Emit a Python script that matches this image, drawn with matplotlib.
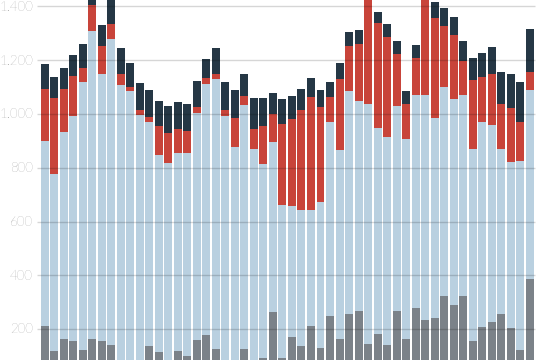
import numpy as np
import matplotlib.pyplot as plt

# stacked weekly values (bottom to top)
grey = [212, 120, 164, 157, 124, 164, 157, 142, 60, 50, 70, 138, 115, 70, 120, 100,
        158, 179, 127, 70, 70, 125, 70, 93, 262, 93, 169, 138, 212, 131, 250, 163,
        257, 269, 145, 182, 142, 266, 164, 278, 235, 243, 322, 291, 322, 157, 207, 225,
        257, 204, 123, 388]
light_blue = [687, 655, 769, 836, 995, 1144, 990, 1136, 1047, 1037, 926, 832, 732, 747, 736, 756,
              847, 932, 1002, 923, 807, 907, 798, 722, 634, 570, 488, 504, 430, 541, 720, 703,
              829, 779, 891, 765, 772, 762, 742, 792, 835, 743, 780, 764, 749, 714, 763, 734,
              611, 618, 704, 701]
red = [193, 285, 160, 149, 51, 97, 106, 56, 41, 15, 18, 20, 108, 113, 87, 81,
       21, 22, 20, 21, 109, 35, 75, 140, 103, 298, 323, 372, 423, 354, 93, 263,
       167, 214, 404, 391, 373, 195, 130, 139, 380, 371, 226, 240, 127, 255, 168, 189,
       168, 199, 143, 68]
navy = [93, 78, 77, 77, 90, 45, 78, 136, 99, 87, 100, 99, 93, 100, 100, 99,
        97, 73, 98, 105, 103, 81, 115, 103, 78, 94, 86, 78, 70, 63, 56, 60,
        53, 50, 30, 43, 47, 47, 49, 47, 30, 58, 65, 64, 73, 84, 88, 103,
        121, 127, 149, 159]

ticks = [200, 400, 600, 800, 1000, 1200, 1400]
tick_labels = ['200', '400', '600', '800', '1.000', '1.200', '1.400']

colors = ['#7b8289', '#b9d0e0', '#c8443a', '#253745']

fig = plt.figure(figsize=(5.4, 3.6), dpi=100)
ax = fig.add_axes([0, 0, 1, 1])

x = np.arange(len(grey))
bottom = np.zeros(len(grey))
for vals, c in zip([grey, light_blue, red, navy], colors):
    ax.bar(x, vals, width=0.84, bottom=bottom, color=c, linewidth=0, zorder=1)
    bottom += np.array(vals)

ax.hlines(ticks, -0.85, 51.56, color='k', alpha=0.16, linewidth=1, zorder=2)
for t, lab in zip(ticks, tick_labels):
    ax.text(-1.25, t - 3, lab, ha='right', va='center', fontsize=9.5,
            color='#6a6a6a', family=['Lato', 'DejaVu Sans'], fontweight='light')

ax.set_xlim(-4.7, 52.08)
ax.set_ylim(85, 1424)
ax.axis('off')

fig.savefig('out.png', dpi=100)
